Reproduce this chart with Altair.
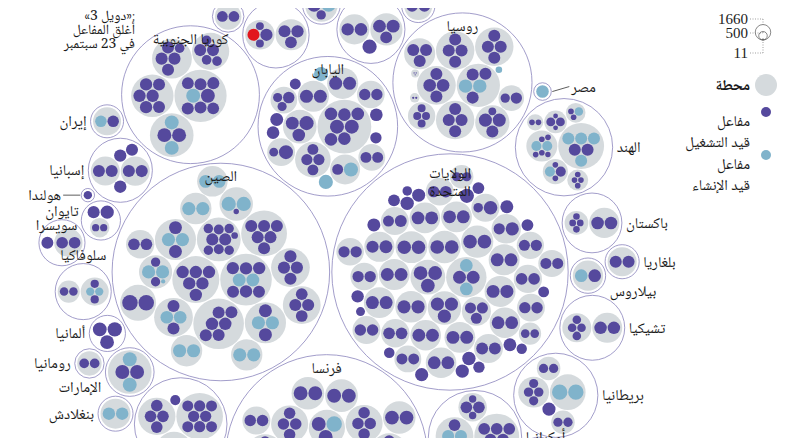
import math
import altair as alt
import pandas as pd

# ---------------------------------------------------------------------------
# Data: for every country, its stations; each station = (operating MW list,
# under-construction MW list[, closed MW list])
# ---------------------------------------------------------------------------
USA = [
    ([1311, 1314, 1312], []), ([1200, 1200, 1210], []), ([847, 848, 859], []),
    ([1150, 1152], [1117, 1117]), ([1300, 1300], []), ([1164, 1136], []),
    ([1183, 1154], []), ([1280, 1280], []), ([1257, 1257], []), ([1130, 1134], []),
    ([1218, 1207], []), ([1160, 1150], []), ([1158, 1158], []), ([1152, 1126], []),
    ([1157, 1165], []), ([1138, 1118], []), ([1169, 1158], []), ([620, 1287], []),
    ([869, 1210], []), ([866, 850], []), ([902, 895], []), ([908, 911], []),
    ([1137, 1140], []), ([981, 987], []), ([829, 829], []), ([948, 944], []),
    ([838, 838], []), ([1030, 1168], []), ([908, 901], []), ([876, 883], []),
    ([874, 883], []), ([522, 519], []), ([591, 591], []), ([836, 988], []),
    ([938, 932], []), ([741], []), ([964], []), ([973], []), ([1141], []),
    ([1240], []), ([894], []), ([1062], []), ([1215], []), ([1200], []),
    ([769], []), ([1174], []), ([967], []), ([1168], []), ([1401], []),
    ([628], []), ([813], []), ([560], []), ([1246], []), ([1172], []),
]
CHINA = [
    ([944, 944], []), ([950, 950, 1007, 1007], []),
    ([310, 610, 610, 619, 619, 677, 677, 1012, 1012], []),
    ([990, 990, 1060, 1060, 1060, 1060], [1150, 1150]),
    ([1061, 1061, 1061, 1061, 1061, 1061], []), ([1018, 1018, 1018, 1018], []),
    ([1000, 1000, 1000, 1000, 1075, 1075], []),
    ([1000, 1000, 1000, 1000, 1000, 1000], []), ([1000, 1000], [1100, 1100]),
    ([601, 601], [1200, 1200, 125]), ([1170, 1170], [1200, 1200]),
    ([1157, 1157], [1200, 1200]), ([1660, 1660], []), ([200], [1400, 1400]),
    ([], [1200, 1200]), ([], [1126, 1126]), ([], [1202, 1202]),
    ([], [1200, 1200]),
]
FRANCE = [
    ([910, 910, 910, 910, 910, 910], []), ([1330, 1330, 1330, 1330], []),
    ([1300, 1300, 1300, 1300], []), ([1330, 1330], [1650]), ([1330, 1330], []),
    ([1335, 1335], []), ([1310, 1310], []), ([1310, 1310], []), ([1310, 1310], []),
    ([1500, 1500], []), ([1495, 1495], []), ([910, 910, 880, 880], []),
    ([915, 915, 915, 915], []), ([890, 890, 890, 890], []), ([910, 910, 910, 910], []),
    ([905, 905, 905, 905], []), ([915, 915], []), ([915, 915, 915, 915], []),
]
JAPAN = [
    ([1100, 1100, 1100, 1100, 1100, 1356, 1356], []), ([826, 826, 870, 870], []),
    ([1180, 1180], []), ([1180, 1180], []), ([890, 890], []), ([890], []),
    ([826], []), ([1100], []), ([825, 825], []), ([1100, 1137, 1380], []),
    ([540, 1358], []), ([579, 579, 912], []), ([1160], []), ([1100], []),
    ([820], [1373]), ([], [1383]), ([], [1385]),
]
RUSSIA = [
    ([1000, 1000, 1101, 1101], []), ([1000, 1000, 1000], [1255, 1255]),
    ([1000, 1000, 1000], []), ([1000, 1000, 1000, 1000], []),
    ([417, 1000, 1180, 1180], []), ([440, 440, 440, 440], []),
    ([1000, 1000, 1000, 1000], []), ([1000, 1000, 1000, 1000], []),
    ([600, 885], []), ([12, 12, 12], []), ([35, 35], []), ([], [300]),
]
KOREA = [
    ([996, 993, 1050, 1049, 1049, 1048], []),
    ([960, 960, 1000, 1000, 1000, 1000, 1340], [1340]),
    ([650, 650, 650, 1000, 1000], []), ([640, 1011, 1012, 1000, 1000], []),
    ([1340, 1340], [1340, 1340]),
]
INDIA = [
    ([160, 160, 540, 540], []), ([200, 220, 220, 220, 220], [700, 700]),
    ([1000, 1000], [1000, 1000, 1000, 1000]), ([220, 220, 220, 220], []),
    ([220, 220, 700], [700]), ([220, 220], [500]), ([220, 220], []),
]
CANADA = [
    ([830, 830, 830, 830, 872, 872, 872, 872], []),
    ([540, 540, 540, 540, 540, 540], []), ([934, 934, 934, 934], []), ([705], []),
]
UKRAINE = [
    ([950, 950, 950, 950, 950, 950], []), ([381, 376, 950, 950], []),
    ([950, 950, 950], []), ([950, 950], [1000, 1000]),
]
UK = [
    ([585, 575, 615, 615], []), ([595, 585], []), ([595, 595], []), ([1198], []),
    ([], [1630, 1630]),
]
SPAIN = [([1011, 1006], []), ([995, 997], []), ([1064], []), ([1045], []), ([1003], [])]
SWEDEN = [([984, 1120, 1167], []), ([1063, 1104], []), ([1400], [])]
BELGIUM = [([433, 433, 1033], [], [1006]), ([962, 1008, 1038], [])]
UAE = [([1345, 1345], [1345, 1345])]
TURKEY = [([], [1114, 1114, 1114, 1114])]
FINLAND = [([890, 890, 1600], []), ([507, 507], [])]
CZECH = [([510, 510, 510, 510], []), ([1080, 1080], [])]
PAKISTAN = [([300, 300, 315, 315], []), ([1100, 1100], [])]
SWITZERLAND = [([365, 365], []), ([1010], []), ([1220], [])]
SLOVAKIA = [([505, 505], []), ([470, 470], [471, 471])]
TAIWAN = [([985], []), ([936, 938], [])]
BRAZIL = [([1275, 609], [1340])]
BELARUS = [([1110], [1110])]
BANGLADESH = [([], [1080, 1080])]
HUNGARY = [([500, 500, 500, 500], [])]
BULGARIA = [([1003, 1003], [])]
IRAN = [([915], [915])]
SOUTH_AFRICA = [([930, 930], [])]
ARGENTINA = [([340, 692], []), ([600], []), ([], [25])]
MEXICO = [([800, 800], [])]
ROMANIA = [([650, 650], [])]
EGYPT = [([], [1100])]
SLOVENIA = [([688], [])]
NETHERLANDS = [([485], [])]
ARMENIA = [([416], [])]
GERMANY = [([1410], []), ([1335], []), ([1310], [])]

COUNTRIES = [
    ("الولايات المتحدة", USA), ("الصين", CHINA), ("فرنسا", FRANCE),
    ("اليابان", JAPAN), ("روسيا", RUSSIA), ("كوريا الجنوبية", KOREA),
    ("الهند", INDIA), ("كندا", CANADA), ("أوكرانيا", UKRAINE),
    ("بريطانيا", UK), ("إسبانيا", SPAIN), ("السويد", SWEDEN),
    ("بلجيكا", BELGIUM), ("الإمارات", UAE), ("تركيا", TURKEY),
    ("فنلندا", FINLAND), ("تشيكيا", CZECH), ("باكستان", PAKISTAN),
    ("سويسرا", SWITZERLAND), ("سلوفاكيا", SLOVAKIA), ("تايوان", TAIWAN),
    ("البرازيل", BRAZIL), ("بيلاروس", BELARUS), ("بنغلادش", BANGLADESH),
    ("المجر", HUNGARY), ("بلغاريا", BULGARIA), ("إيران", IRAN),
    ("جنوب إفريقيا", SOUTH_AFRICA), ("الأرجنتين", ARGENTINA),
    ("المكسيك", MEXICO), ("رومانيا", ROMANIA), ("مصر", EGYPT),
    ("سلوفينيا", SLOVENIA), ("هولندا", NETHERLANDS), ("أرمينيا", ARMENIA),
    ("ألمانيا", GERMANY),
]
SIZE_LEGEND = [1660, 500, 11]
NOTE_LINES = ["«دويل 3»:", "أغلق المفاعل في 23 سبتمبر"]
NOTE_LINES_WRAPPED = ["«دويل 3»:", "أغلق المفاعل", "في 23 سبتمبر"]

# ---------------------------------------------------------------------------
# Layout parameters (style)
# ---------------------------------------------------------------------------
K_R = 0.19           # px per sqrt(MW)
PAD = {"root": 2.2, "country": 0.9, "station": 0.8}     # gap between siblings
EXTRA = {"root": 0.0, "country": 1.6, "station": 1.3}   # extra rim inside a parent
ANCHOR = (450.0, 272.0)   # page position of the largest country's centre
W, H = 776, 430
PURPLE, BLUE, GREY, RING, RED = "#55499d", "#80b3cb", "#d5dadd", "#8a84bd", "#e2161d"
AR_FONT = "Noto Naskh Arabic, Noto Sans Arabic, DejaVu Sans, sans-serif"
FS = 15
CHAR_W = 7.4


# ---------------------------------------------------------------------------
# circle packing (d3-hierarchy pack algorithm)
# ---------------------------------------------------------------------------
def lcg():
    s = [1]

    def f():
        s[0] = (1664525 * s[0] + 1013904223) % 4294967296
        return s[0] / 4294967296
    return f


RND = lcg()


def shuffle(arr):
    m = len(arr)
    while m:
        i = int(RND() * m)
        m -= 1
        arr[m], arr[i] = arr[i], arr[m]
    return arr


def encloses_not(a, b):
    dr = a["r"] - b["r"]
    dx, dy = b["x"] - a["x"], b["y"] - a["y"]
    return dr < 0 or dr * dr < dx * dx + dy * dy


def encloses_weak(a, b):
    dr = a["r"] - b["r"] + max(a["r"], b["r"], 1) * 1e-9
    dx, dy = b["x"] - a["x"], b["y"] - a["y"]
    return dr > 0 and dr * dr > dx * dx + dy * dy


def encloses_weak_all(a, B):
    return all(encloses_weak(a, b) for b in B)


def basis2(a, b):
    x1, y1, r1 = a["x"], a["y"], a["r"]
    x2, y2, r2 = b["x"], b["y"], b["r"]
    x21, y21, r21 = x2 - x1, y2 - y1, r2 - r1
    l = math.hypot(x21, y21) or 1e-12
    return {"x": (x1 + x2 + x21 / l * r21) / 2, "y": (y1 + y2 + y21 / l * r21) / 2,
            "r": (l + r1 + r2) / 2}


def basis3(a, b, c):
    x1, y1, r1 = a["x"], a["y"], a["r"]
    x2, y2, r2 = b["x"], b["y"], b["r"]
    x3, y3, r3 = c["x"], c["y"], c["r"]
    a2, a3, b2, b3 = x1 - x2, x1 - x3, y1 - y2, y1 - y3
    c2, c3 = r2 - r1, r3 - r1
    d1 = x1 * x1 + y1 * y1 - r1 * r1
    d2 = d1 - x2 * x2 - y2 * y2 + r2 * r2
    d3 = d1 - x3 * x3 - y3 * y3 + r3 * r3
    ab = a3 * b2 - a2 * b3
    xa = (b2 * d3 - b3 * d2) / (ab * 2) - x1
    xb = (b3 * c2 - b2 * c3) / ab
    ya = (a3 * d2 - a2 * d3) / (ab * 2) - y1
    yb = (a2 * c3 - a3 * c2) / ab
    A = xb * xb + yb * yb - 1
    Bq = 2 * (r1 + xa * xb + ya * yb)
    C = xa * xa + ya * ya - r1 * r1
    if abs(A) > 1e-6:
        r = -((Bq + math.sqrt(max(0, Bq * Bq - 4 * A * C))) / (2 * A))
    else:
        r = -(C / Bq)
    return {"x": x1 + xa + xb * r, "y": y1 + ya + yb * r, "r": r}


def basis(B):
    if len(B) == 1:
        return {"x": B[0]["x"], "y": B[0]["y"], "r": B[0]["r"]}
    if len(B) == 2:
        return basis2(B[0], B[1])
    return basis3(B[0], B[1], B[2])


def extend_basis(B, p):
    if encloses_weak_all(p, B):
        return [p]
    for i in range(len(B)):
        if encloses_not(p, B[i]) and encloses_weak_all(basis2(B[i], p), B):
            return [B[i], p]
    for i in range(len(B) - 1):
        for j in range(i + 1, len(B)):
            if (encloses_not(basis2(B[i], B[j]), p)
                    and encloses_not(basis2(B[i], p), B[j])
                    and encloses_not(basis2(B[j], p), B[i])
                    and encloses_weak_all(basis3(B[i], B[j], p), B)):
                return [B[i], B[j], p]
    return B + [p]


def enclose(circles):
    cs = shuffle(list(circles))
    i, n, B, e = 0, len(cs), [], None
    guard = 0
    while i < n and guard < 100000:
        guard += 1
        p = cs[i]
        if e is not None and encloses_weak(e, p):
            i += 1
        else:
            B = extend_basis(B, p)
            e = basis(B[-3:])
            i = 0
    return e


def place(b, a, c):
    dx, dy = b["x"] - a["x"], b["y"] - a["y"]
    d2 = dx * dx + dy * dy
    if d2:
        a2 = (a["r"] + c["r"]) ** 2
        b2 = (b["r"] + c["r"]) ** 2
        if a2 > b2:
            x = (d2 + b2 - a2) / (2 * d2)
            y = math.sqrt(max(0, b2 / d2 - x * x))
            c["x"] = b["x"] - x * dx - y * dy
            c["y"] = b["y"] - x * dy + y * dx
        else:
            x = (d2 + a2 - b2) / (2 * d2)
            y = math.sqrt(max(0, a2 / d2 - x * x))
            c["x"] = a["x"] + x * dx - y * dy
            c["y"] = a["y"] + x * dy + y * dx
    else:
        c["x"] = a["x"] + c["r"]
        c["y"] = a["y"]


def intersects(a, b):
    dr = a["r"] + b["r"] - 1e-6
    dx, dy = b["x"] - a["x"], b["y"] - a["y"]
    return dr > 0 and dr * dr > dx * dx + dy * dy


class Link:
    __slots__ = ("c", "next", "prev")

    def __init__(self, c):
        self.c, self.next, self.prev = c, None, None


def score(node):
    a, b = node.c, node.next.c
    ab = a["r"] + b["r"]
    dx = (a["x"] * b["r"] + b["x"] * a["r"]) / ab
    dy = (a["y"] * b["r"] + b["y"] * a["r"]) / ab
    return dx * dx + dy * dy


def pack_siblings(circles):
    n = len(circles)
    if n == 0:
        return 0
    a = circles[0]
    a["x"], a["y"] = 0.0, 0.0
    if n == 1:
        return a["r"]
    b = circles[1]
    a["x"], b["x"], b["y"] = -b["r"], a["r"], 0.0
    if n == 2:
        return a["r"] + b["r"]
    place(b, a, circles[2])
    a, b, c = Link(a), Link(b), Link(circles[2])
    a.next = c.prev = b
    b.next = a.prev = c
    c.next = b.prev = a
    i = 3
    while i < n:
        place(a.c, b.c, circles[i])
        c = Link(circles[i])
        j, k = b.next, a.prev
        sj, sk = b.c["r"], a.c["r"]
        restart = False
        while True:
            if sj <= sk:
                if intersects(j.c, c.c):
                    b = j
                    a.next, b.prev = b, a
                    restart = True
                    break
                sj += j.c["r"]
                j = j.next
            else:
                if intersects(k.c, c.c):
                    a = k
                    a.next, b.prev = b, a
                    restart = True
                    break
                sk += k.c["r"]
                k = k.prev
            if j is k.next:
                break
        if restart:
            continue
        old_b = b
        c.prev, c.next = a, old_b
        a.next = c
        old_b.prev = c
        b = c
        aa = score(a)
        c = c.next
        while c is not b:
            ca = score(c)
            if ca < aa:
                a, aa = c, ca
            c = c.next
        b = a.next
        i += 1
    chain = [b.c]
    c = b.next
    while c is not b:
        chain.append(c.c)
        c = c.next
    e = enclose(chain)
    for cc in circles:
        cc["x"] -= e["x"]
        cc["y"] -= e["y"]
    return e["r"]


def pack(node):
    if "children" not in node:
        node["r"] = K_R * math.sqrt(node["value"])
        return
    for ch in node["children"]:
        pack(ch)
    p = PAD[node["kind"]] * 0.5
    for ch in node["children"]:
        ch["r"] += p
    e = pack_siblings(node["children"])
    for ch in node["children"]:
        ch["r"] -= p
    node["r"] = e + p + EXTRA[node["kind"]]


def translate(node, x, y):
    node["X"], node["Y"] = x, y
    for ch in node.get("children", []):
        translate(ch, x + ch["x"], y + ch["y"])


# build hierarchy
countries = []
for name, stations in COUNTRIES:
    kids = []
    for st in stations:
        leaves = ([{"value": v, "status": "op"} for v in st[0]]
                  + [{"value": v, "status": "con"} for v in st[1]]
                  + [{"value": v, "status": "closed"} for v in (st[2] if len(st) > 2 else [])])
        leaves.sort(key=lambda d: -d["value"])
        if len(leaves) == 1:
            kids.append(dict(leaves[0], kind="reactor"))
        else:
            kids.append({"kind": "station", "children": leaves,
                         "value": sum(l["value"] for l in leaves)})
    kids.sort(key=lambda d: -d["value"])
    countries.append({"kind": "country", "name": name, "children": kids,
                      "value": sum(k["value"] for k in kids)})
countries.sort(key=lambda d: -d["value"])
root = {"kind": "root", "children": countries, "value": sum(c["value"] for c in countries)}
pack(root)
translate(root, 0.0, 0.0)

big = countries[0]
OX = ANCHOR[0] + big["X"]
OY = ANCHOR[1] - big["Y"]


def px(n):
    return OX - n["X"]   # mirrored (right-to-left)


def py(n):
    return OY + n["Y"]


rows_c, rows_s, rows_r = [], [], []
leaders = []
CX, CY = px(root), py(root)
red, belgium = None, None
for c in countries:
    rows_c.append({"x": px(c), "y": py(c), "s": (2 * c["r"]) ** 2, "name": c["name"]})
    for ch in c["children"]:
        if ch["kind"] == "station":
            rows_s.append({"x": px(ch), "y": py(ch), "s": (2 * ch["r"]) ** 2})
            leaves = ch["children"]
        else:
            leaves = [ch]
        for l in leaves:
            rows_r.append({"x": px(l), "y": py(l), "s": (2 * l["r"]) ** 2, "status": l["status"]})
            if l["status"] == "closed":
                red, belgium = (px(l), py(l)), c
circles = [(px(c), py(c), c["r"] + 1) for c in countries]

# ---- country labels -------------------------------------------------------


def box(lb):
    w = lb["w"]
    if lb["a"] == "left":
        x0 = lb["x"]
    elif lb["a"] == "right":
        x0 = lb["x"] - w
    else:
        x0 = lb["x"] - w / 2
    return (x0, lb["y"] - lb["h"] / 2, x0 + w, lb["y"] + lb["h"] / 2)


def overlaps(b1, b2):
    return not (b1[2] < b2[0] or b2[2] < b1[0] or b1[3] < b2[1] or b2[3] < b1[1])


def hits_circle(b):
    for cx, cy, r in circles:
        qx = min(max(cx, b[0]), b[2])
        qy = min(max(cy, b[1]), b[3])
        if (qx - cx) ** 2 + (qy - cy) ** 2 < r * r:
            return True
    return False


def free(b, others, check_circles=True):
    if any(overlaps(b, box(o)) for o in others):
        return False
    return not (check_circles and hits_circle(b))


placed = []
for c in sorted(countries, key=lambda d: -d["r"]):
    x, y, r = px(c), py(c), c["r"]
    t = c["name"]
    if r > 50:
        two = r > 90 and " " in t
        nm = t.replace(" ", "\n") if two else t
        w = max(len(s) for s in nm.split("\n")) * CHAR_W
        placed.append({"x": x, "y": y - r + (19 if two else 13), "t": nm, "a": "center", "w": w,
                       "h": 32 if two else 14})
        continue
    w = len(t) * CHAR_W
    dx, dy = x - CX, y - CY
    cands = []
    above = {"x": x, "y": y - r - 9, "t": t, "a": "center", "w": w, "h": 14}
    below = {"x": x, "y": y + r + 9, "t": t, "a": "center", "w": w, "h": 14}
    for gap in ([4, 20] if r >= 9 else [20, 30]):
        if dx < 0:
            side = {"x": x - r - gap, "y": y, "t": t, "a": "right", "w": w, "h": 14}
            if side["x"] - w >= 8:
                cands.append(side)
        else:
            cands.append({"x": x + r + gap, "y": y, "t": t, "a": "left", "w": w, "h": 14})
    if abs(dy) > 1.6 * abs(dx) and dy < 0:
        cands.insert(0, above)
    else:
        cands.append(above)
    cands.append(below)
    chosen = None
    for check in (True, False):
        for base in cands:
            for off in [0, 5, -5, 10, -10, 15, -15, 20, -20]:
                lb = dict(base, y=base["y"] + off)
                b = box(lb)
                if b[0] < 8:
                    continue
                if free(b, placed, check):
                    chosen = lb
                    break
            if chosen:
                break
        if chosen:
            break
    lb = chosen or cands[0]
    if lb["a"] == "right" and lb["x"] < x - r - 12:
        leaders.append({"x": lb["x"] + 2, "x2": x - r - 1, "y": lb["y"], "y2": y})
    elif lb["a"] == "left" and lb["x"] > x + r + 12:
        leaders.append({"x": x + r + 1, "x2": lb["x"] - 2, "y": y, "y2": lb["y"]})
    placed.append(lb)

note = []
if red is not None:
    target = (red[0] - 33, red[1] + 10)
    best, best_cost = None, None
    for lines, penalty in ((NOTE_LINES, 0), (NOTE_LINES_WRAPPED, 40)):
        wmax = max(len(s) for s in lines) * 7.0
        hgt = 14 * (len(lines) - 1) + 14
        for y0 in range(16, 140, 3):
            for nx in range(int(red[0] - 10), 20, -3):
                b = (nx - wmax, y0 - 7, nx, y0 - 7 + hgt)
                if b[0] < 8:
                    break
                cost = math.hypot(nx - target[0], y0 - target[1]) + penalty
                if best_cost is not None and cost >= best_cost:
                    continue
                if free(b, placed, True):
                    best, best_cost = (lines, nx, y0), cost
    if best is None:
        best = (NOTE_LINES_WRAPPED, 140, 16)
    lines, nx, y0 = best
    note = [{"x": nx, "y": y0 + 14 * i, "t": t} for i, t in enumerate(lines)]

lab_by_align = {"center": [], "left": [], "right": []}
for lb in placed:
    lab_by_align[lb["a"]].append({"x": lb["x"], "y": lb["y"], "t": lb["t"]})

xs = alt.Scale(domain=[8, 8 + W], nice=False, zero=False)
ys = alt.Scale(domain=[8, 8 + H], nice=False, zero=False, reverse=True)
X = alt.X("x:Q", scale=xs, axis=None)
Y = alt.Y("y:Q", scale=ys, axis=None)
S = alt.Size("s:Q", scale=None)

layers = [
    alt.Chart(pd.DataFrame(rows_c)).mark_circle(fill="white", stroke=RING, strokeWidth=0.8, opacity=1).encode(X, Y, S),
    alt.Chart(pd.DataFrame(rows_s)).mark_circle(color=GREY, opacity=1).encode(X, Y, S),
    alt.Chart(pd.DataFrame(rows_r)).mark_circle(opacity=1).encode(
        X, Y, S,
        color=alt.Color("status:N", scale=alt.Scale(domain=["op", "con", "closed"], range=[PURPLE, BLUE, RED]), legend=None)),
]


def text_layer(rows, align, size=FS, lh=18):
    if not rows:
        return None
    return alt.Chart(pd.DataFrame(rows)).mark_text(
        align=align, baseline="middle", font=AR_FONT, fontSize=size, color="#1a1a1a",
        lineBreak="\n", lineHeight=lh).encode(X, Y, text="t:N")


if leaders:
    layers.append(alt.Chart(pd.DataFrame(leaders)).mark_rule(color="#333", strokeWidth=0.8).encode(
        X, Y, x2="x2:Q", y2="y2:Q"))
for lyr in [text_layer(lab_by_align["center"], "center"), text_layer(lab_by_align["left"], "left"),
            text_layer(lab_by_align["right"], "right"), text_layer(note, "right", size=14)]:
    if lyr is not None:
        layers.append(lyr)

# ---- legend (top right) ----
LX = 763 - 8   # circle axis x inside plot
LB = 40 - 8    # bottom of nested circles
LY = alt.Scale(domain=[H, 0], nice=False, zero=False)
leg_sizes = pd.DataFrame({"v": SIZE_LEGEND, "t": [str(v) for v in SIZE_LEGEND]})
leg_sizes["r"] = K_R * leg_sizes["v"] ** 0.5
leg_sizes["s"] = (2 * leg_sizes["r"]) ** 2
leg_sizes["cy"] = LB - leg_sizes["r"]
leg_sizes["top"] = LB - 2 * leg_sizes["r"]
leg_sizes["ly"] = [19 - 8, 33 - 8, 53 - 8]
layers.append(alt.Chart(leg_sizes).mark_circle(fill="white", fillOpacity=0, stroke="#555", strokeWidth=0.7, opacity=1).encode(
    x=alt.value(LX), y=alt.Y("cy:Q", scale=LY, axis=None), size=S))
layers.append(alt.Chart(leg_sizes).mark_text(align="right", baseline="middle", font="Liberation Serif", fontSize=15, color="#222").encode(
    x=alt.value(LX - 15), y=alt.Y("ly:Q", scale=LY, axis=None), text="t:N"))
layers.append(alt.Chart(leg_sizes).mark_rule(color="#777", strokeWidth=0.7, strokeDash=[1, 1.5]).encode(
    x=alt.value(LX - 13), x2=alt.value(LX), y=alt.Y("ly:Q", scale=LY, axis=None)))
layers.append(alt.Chart(leg_sizes).mark_rule(color="#777", strokeWidth=0.7, strokeDash=[1, 1.5]).encode(
    x=alt.value(LX), y=alt.Y("ly:Q", scale=LY, axis=None), y2="top:Q"))

leg_items = [
    ("محطة", GREY, 11, 85, True),
    ("مفاعل\nقيد التشغيل", PURPLE, 5, 112, False),
    ("مفاعل\nقيد الإنشاء", BLUE, 5, 155, False),
]
for label, col, rr, yy, bold in leg_items:
    layers.append(alt.Chart(pd.DataFrame({"k": [0]})).mark_circle(color=col, opacity=1, size=(2 * rr) ** 2).encode(
        x=alt.value(766 - 8), y=alt.value(yy - 8)))
    layers.append(alt.Chart(pd.DataFrame({"t": [label]})).mark_text(
        align="right", baseline="middle", font=AR_FONT, fontSize=15, color="#1a1a1a",
        fontWeight="bold" if bold else "normal", lineBreak="\n", lineHeight=21).encode(
        x=alt.value(750 - 8), y=alt.value(yy - 8 + (0 if bold else 9)), text="t:N"))

chart = alt.layer(*layers).resolve_scale(y="independent").properties(
    width=W, height=H, padding=0, autosize="none"
).configure_view(stroke=None)

chart.save("out.html", embed_options={"renderer": "svg", "actions": False})
